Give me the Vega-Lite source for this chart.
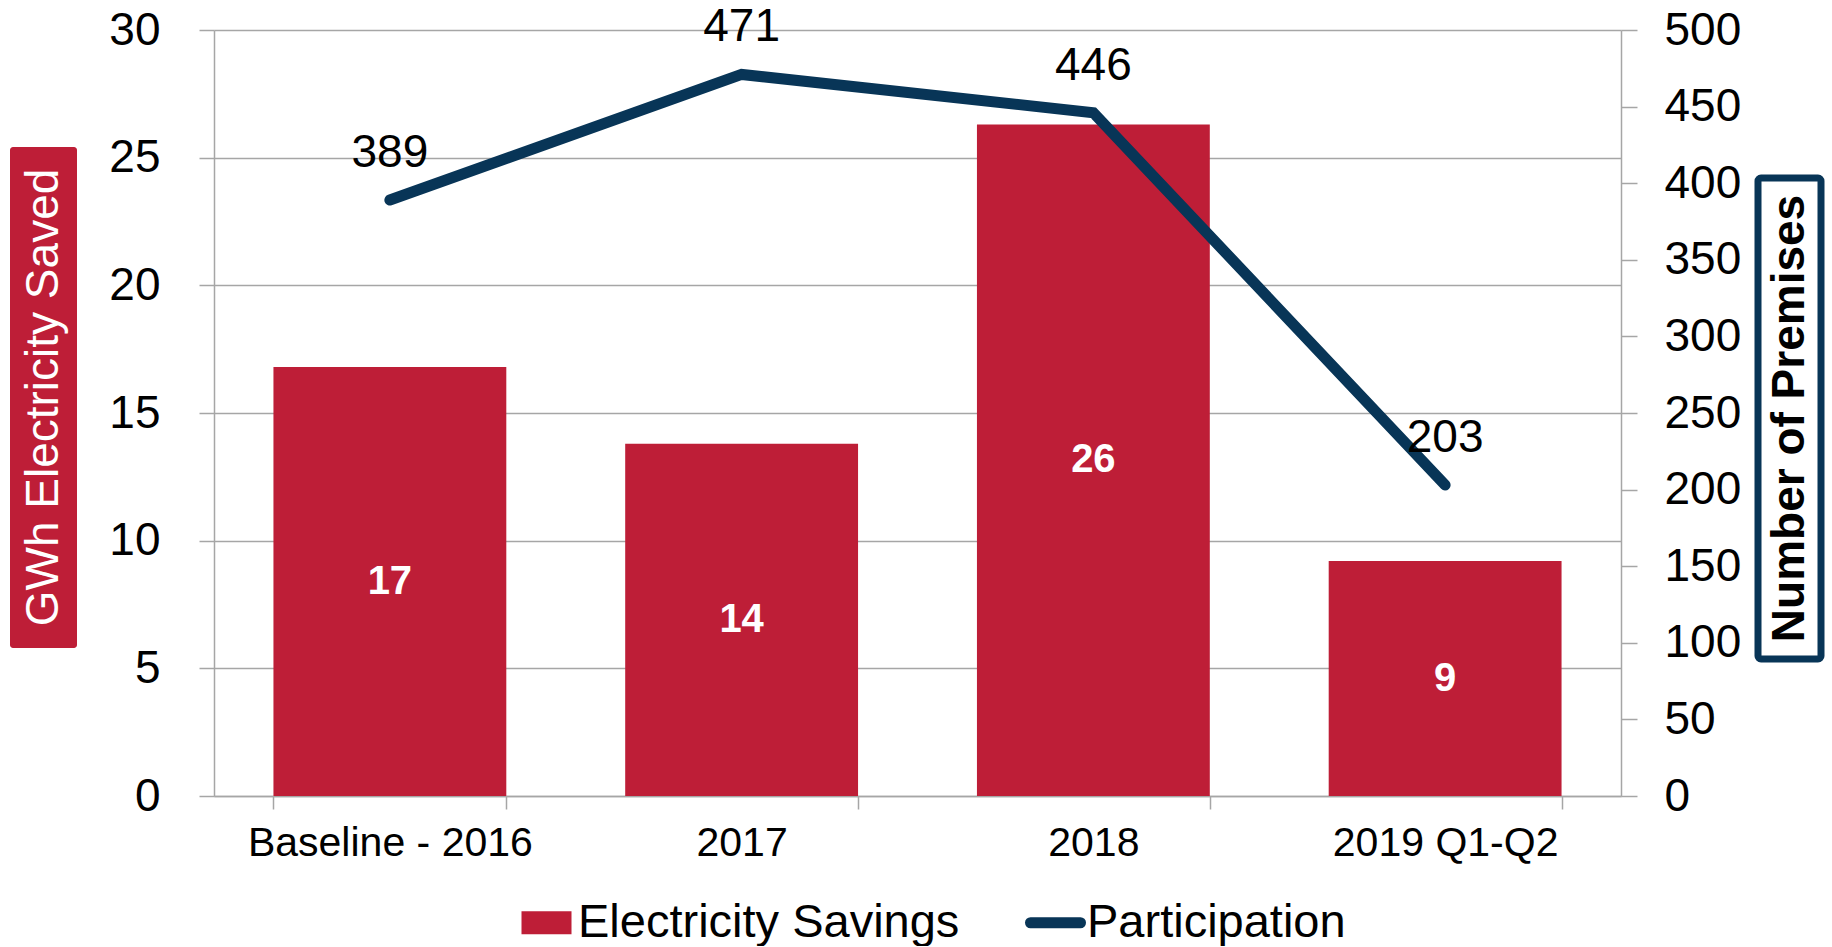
{
  "$schema": "https://vega.github.io/schema/vega-lite/v6.json",
  "background": "white",
  "padding": {"left": 10, "top": 4, "right": 0, "bottom": 0},
  "config": {"view": {"stroke": null}, "font": "Liberation Sans"},
  "spacing": 31,
  "hconcat": [
    {
      "spacing": 0,
      "vconcat": [
        {
          "width": 67, "height": 117,
          "data": {"values": [{"t": ""}]},
          "mark": {"type": "text"},
          "encoding": {"text": {"field": "t", "type": "nominal"}}
        },
        {
          "width": 67, "height": 501,
          "data": {"values": [{"t": "GWh Electricity Saved"}]},
          "mark": {"type": "text", "angle": 270, "color": "white", "font": "Liberation Sans", "fontSize": 46},
          "encoding": {"text": {"field": "t", "type": "nominal"}},
          "view": {"fill": "#be1e37", "stroke": null, "cornerRadius": 3}
        }
      ]
    },
    {
      "spacing": 13,
      "hconcat": [
        {
          "width": 1407, "height": 766,
          "data": {"values": [
            {"period": "Baseline - 2016", "gwh": 16.8, "premises": 389},
            {"period": "2017", "gwh": 13.8, "premises": 471},
            {"period": "2018", "gwh": 26.3, "premises": 446},
            {"period": "2019 Q1-Q2", "gwh": 9.2, "premises": 203}
          ]},
          "encoding": {
            "x": {"field": "period", "type": "nominal", "sort": null,
              "scale": {"paddingInner": 0.338, "paddingOuter": 0.169},
              "axis": {"title": null, "labelAngle": 0, "labelLimit": 0, "tickBand": "extent", "tickSize": 13, "tickWidth": 1.5, "tickColor": "#a6a6a6", "domainColor": "#a6a6a6", "domainWidth": 1.5, "labelFontSize": 41, "labelColor": "black", "labelPadding": 14, "labelFont": "Liberation Sans"}}
          },
          "layer": [
            {
              "mark": {"type": "bar", "color": "#be1e37"},
              "encoding": {
                "y": {"field": "gwh", "type": "quantitative", "scale": {"domain": [0, 30], "nice": false},
                  "axis": {"orient": "left", "title": null, "values": [0, 5, 10, 15, 20, 25, 30], "grid": true, "gridColor": "#a6a6a6", "gridWidth": 1.5, "domainColor": "#a6a6a6", "domainWidth": 1.5, "tickColor": "#a6a6a6", "tickWidth": 1.5, "tickSize": 15, "labelFontSize": 46, "labelColor": "black", "labelPadding": 39, "labelFont": "Liberation Sans"}},
                "color": {"datum": "Electricity Savings", "type": "nominal",
                  "scale": {"domain": ["Electricity Savings", "Participation"], "range": ["#be1e37", "#083557"]},
                  "legend": {"orient": "none", "legendX": 513, "legendY": 869, "direction": "horizontal", "title": null,
                    "labelFontSize": 47, "labelFont": "Liberation Sans", "labelColor": "black", "labelOffset": 8, "columnPadding": 48,
                    "symbolSize": 2500, "symbolStrokeWidth": 0, "labelLimit": 1000,
                    "encode": {"symbols": {"update": {
                      "shape": {"signal": "datum.value === 'Participation' ? 'M-1,0H1' : 'M-1,-0.46H1V0.46H-1Z'"},
                      "fill": {"signal": "datum.value === 'Participation' ? 'transparent' : '#be1e37'"},
                      "stroke": {"value": "#083557"},
                      "strokeWidth": {"signal": "datum.value === 'Participation' ? 11 : 0"},
                      "strokeCap": {"value": "round"},
                      "opacity": {"value": 1}
                    }}}}}
              }
            },
            {
              "mark": {"type": "text", "color": "white", "fontWeight": "bold", "fontSize": 40, "font": "Liberation Sans"},
              "encoding": {
                "y": {"field": "gwh", "type": "quantitative", "scale": {"domain": [0, 60], "nice": false}, "axis": null},
                "text": {"field": "gwh", "type": "quantitative", "format": ".0f"}
              }
            },
            {
              "mark": {"type": "line", "color": "#083557", "strokeWidth": 11, "strokeCap": "round", "strokeJoin": "miter"},
              "encoding": {
                "y": {"field": "premises", "type": "quantitative", "scale": {"domain": [0, 500], "nice": false},
                  "axis": {"orient": "right", "title": null, "values": [0, 50, 100, 150, 200, 250, 300, 350, 400, 450, 500], "grid": false, "domainColor": "#a6a6a6", "domainWidth": 1.5, "tickColor": "#a6a6a6", "tickWidth": 1.5, "tickSize": 16, "labelFontSize": 46, "labelColor": "black", "labelPadding": 27, "labelFont": "Liberation Sans"}},
                "color": {"datum": "Participation", "type": "nominal"}
              }
            },
            {
              "mark": {"type": "text", "color": "black", "fontSize": 46, "font": "Liberation Sans", "dy": -47},
              "encoding": {
                "y": {"field": "premises", "type": "quantitative", "scale": {"domain": [0, 500], "nice": false}, "axis": null},
                "text": {"field": "premises", "type": "quantitative"}
              }
            }
          ],
          "resolve": {"scale": {"y": "independent"}}
        },
        {
          "spacing": 0,
          "vconcat": [
            {
              "width": 63, "height": 144,
              "data": {"values": [{"t": ""}]},
              "mark": {"type": "text"},
              "encoding": {"text": {"field": "t", "type": "nominal"}}
            },
            {
              "width": 63, "height": 481,
              "data": {"values": [{"t": "Number of Premises"}]},
              "mark": {"type": "text", "angle": 270, "color": "black", "fontWeight": "bold", "font": "Liberation Sans", "fontSize": 46},
              "encoding": {"text": {"field": "t", "type": "nominal"}},
              "view": {"fill": "white", "stroke": "#083557", "strokeWidth": 7, "cornerRadius": 3}
            }
          ]
        }
      ]
    }
  ]
}
